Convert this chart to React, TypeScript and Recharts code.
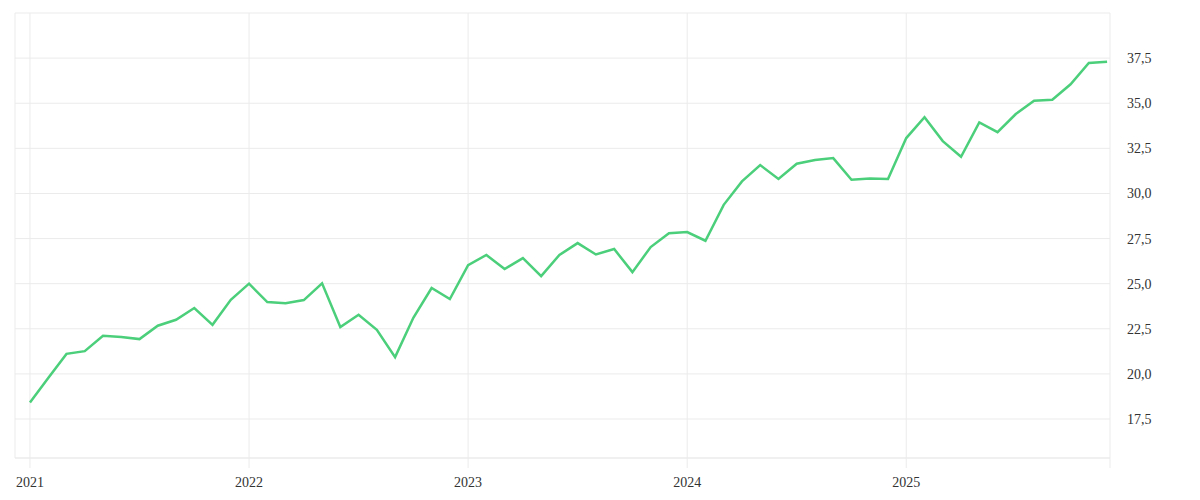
import { CartesianGrid, Line, LineChart, XAxis, YAxis } from "recharts";

// monthly values, Jan 2021 .. Dec 2025
const values2021 = [18.41, 19.77, 21.11, 21.26, 22.11, 22.04, 21.93, 22.67, 23.0, 23.65, 22.72, 24.11];
const values2022 = [25.0, 23.98, 23.92, 24.09, 25.02, 22.6, 23.28, 22.44, 20.93, 23.11, 24.76, 24.15];
const values2023 = [26.03, 26.59, 25.81, 26.42, 25.42, 26.59, 27.25, 26.62, 26.92, 25.64, 27.03, 27.8];
const values2024 = [27.86, 27.38, 29.37, 30.67, 31.57, 30.8, 31.65, 31.85, 31.96, 30.76, 30.83, 30.8];
const values2025 = [33.07, 34.23, 32.9, 32.03, 33.94, 33.4, 34.4, 35.14, 35.19, 36.05, 37.23, 37.3];

const years = ["2021", "2022", "2023", "2024", "2025"];
const yTicks = [17.5, 20, 22.5, 25, 27.5, 30, 32.5, 35, 37.5, 40];

const X_MIN = -0.82;
const X_MAX = 59.16;
const Y_MIN = 15.34;
const Y_MAX = 40;

const data = [...values2021, ...values2022, ...values2023, ...values2024, ...values2025].map(
  (v, i) => ({ m: i, value: v })
);

const xTicks = [...years.map((_, i) => i * 12), X_MAX];

const GRID = "#ebebeb";
const FONT = "'Liberation Serif', 'Times New Roman', serif";

export default function App() {
  return (
    <div style={{ fontFamily: FONT }}>
      <LineChart
        width={1184}
        height={484}
        data={data}
        margin={{ top: 5, right: 12, left: 7, bottom: 4 }}
        style={{ fontFamily: FONT }}
      >
        <CartesianGrid stroke={GRID} />
        <XAxis
          dataKey="m"
          type="number"
          domain={[X_MIN, X_MAX]}
          ticks={xTicks}
          allowDataOverflow
          tickFormatter={(v: number) => (v === X_MAX ? "" : years[Math.round(v / 12)])}
          axisLine={{ stroke: GRID }}
          tickLine={{ stroke: GRID }}
          tickSize={10}
          tickMargin={9}
          height={30}
          tick={{ fill: "#333", fontSize: 14, fontFamily: FONT }}
        />
        <YAxis
          orientation="right"
          domain={[Y_MIN, Y_MAX]}
          ticks={yTicks}
          allowDataOverflow
          tickFormatter={(v: number) => (v === Y_MAX ? "" : v.toFixed(1).replace(".", ","))}
          axisLine={false}
          tickLine={false}
          tickMargin={11}
          width={70}
          tick={{ fill: "#333", fontSize: 14, fontFamily: FONT, textAnchor: "start" }}
        />
        <Line
          type="linear"
          dataKey="value"
          stroke="#4ccf7a"
          strokeWidth={2.5}
          dot={false}
          activeDot={false}
          isAnimationActive={false}
        />
      </LineChart>
    </div>
  );
}
